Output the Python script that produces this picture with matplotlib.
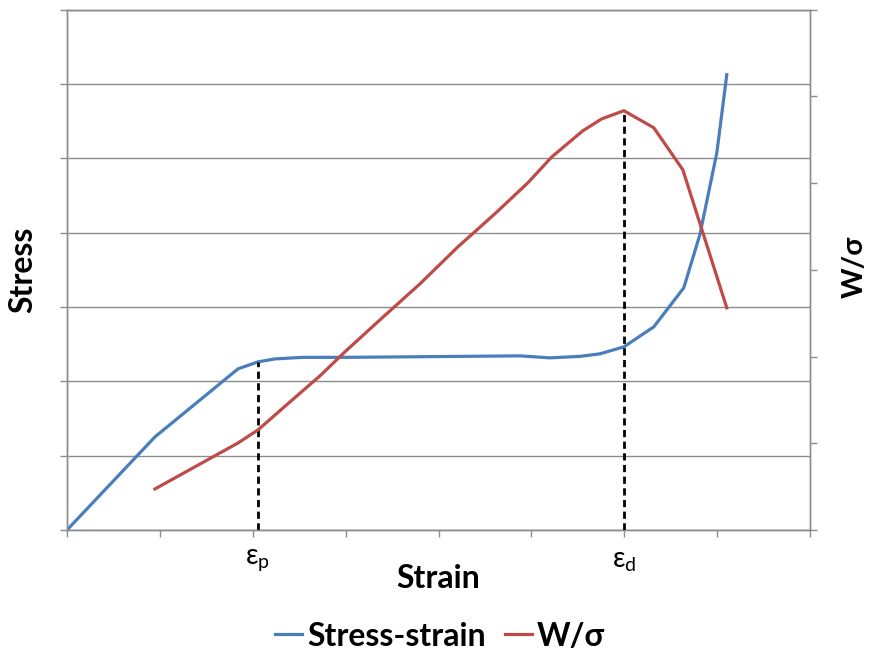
import numpy as np
import matplotlib.pyplot as plt

plt.rcParams['font.family'] = ['Lato', 'DejaVu Sans']

# stress-strain curve (left axis units, one unit per gridline)
strain_ss = [0, 0.947, 1.841, 2.056, 2.239, 2.540, 2.992, 3.584, 4.230, 4.876,
             5.199, 5.522, 5.737, 5.996, 6.318, 6.641, 6.814, 6.997, 7.104]
stress = [0, 1.252, 2.167, 2.261, 2.301, 2.322, 2.322, 2.328, 2.335, 2.342,
          2.315, 2.335, 2.369, 2.463, 2.732, 3.257, 3.970, 5.074, 6.124]

# W/sigma curve (right axis units)
strain_w = [0.947, 1.841, 2.056, 2.400, 2.723, 2.992, 3.369, 3.800, 4.209, 4.607,
            4.962, 5.221, 5.554, 5.759, 5.996, 6.318, 6.631, 7.104]
w_sigma = [0.473, 1.003, 1.153, 1.476, 1.776, 2.053, 2.422, 2.837, 3.264, 3.645,
           4.002, 4.302, 4.602, 4.740, 4.833, 4.637, 4.152, 2.561]

eps_p = strain_ss[3]
eps_d = strain_w[int(np.argmax(w_sigma))]

blue = '#4A7EBB'
red = '#BE4B48'
gray = '#8C8C8C'

fig = plt.figure(figsize=(8.69, 6.57), dpi=100)
ax = fig.add_axes([67/869, 1 - 530/657, (810 - 67)/869, (530 - 9.5)/657])
ax2 = ax.twinx()

ax.plot(strain_ss, stress, color=blue, lw=2.3, label='Stress-strain', zorder=3)
ax2.plot(strain_w, w_sigma, color=red, lw=2.3, label='W/σ', zorder=3)

# dashed markers
ax.plot([eps_p, eps_p], [0, stress[3]], color='black', lw=2, ls=(0, (2.6, 1.6)), zorder=4)
ax2.plot([eps_d, eps_d], [0, max(w_sigma)], color='black', lw=2, ls=(0, (2.6, 1.6)), zorder=4)

ax.set_xlim(0, 8)
ax.set_ylim(0, 7)
ax2.set_ylim(0, 6)
ax.set_xticks(np.arange(0, 9))
ax.set_yticks(np.arange(0, 8))
ax2.set_yticks(np.arange(0, 7))
ax.set_xticklabels([])
ax.set_yticklabels([])
ax2.set_yticklabels([])

ax.yaxis.grid(True, color=gray, lw=1)
ax.set_axisbelow(True)
for a in (ax, ax2):
    for s in a.spines.values():
        s.set_color(gray)
        s.set_linewidth(1)
    a.tick_params(axis='both', direction='out', length=5, width=1, color=gray)

ax.text(eps_p, -0.42, 'ε$_\\mathregular{p}$', ha='center', va='center', fontsize=20)
ax.text(eps_d, -0.42, 'ε$_\\mathregular{d}$', ha='center', va='center', fontsize=20)

fig.text(438/869, 1 - 579/657, 'Strain', ha='center', va='center',
         fontsize=23, fontweight='bold')
fig.text(23/869, 1 - 270/657, 'Stress', ha='center', va='center', rotation=90,
         fontsize=23, fontweight='bold')
fig.text(855/869, 1 - 267/657, 'W/σ', ha='center', va='center', rotation=90,
         fontsize=21, fontweight='bold')

h1, l1 = ax.get_legend_handles_labels()
h2, l2 = ax2.get_legend_handles_labels()
fig.legend(h1 + h2, l1 + l2, loc='center', bbox_to_anchor=(440/869, 1 - 636/657),
           ncol=2, frameon=False, handlelength=0.85, handletextpad=0.15,
           columnspacing=0.6, prop={'size': 23, 'weight': 'bold'})

fig.savefig('out.png', dpi=100)
